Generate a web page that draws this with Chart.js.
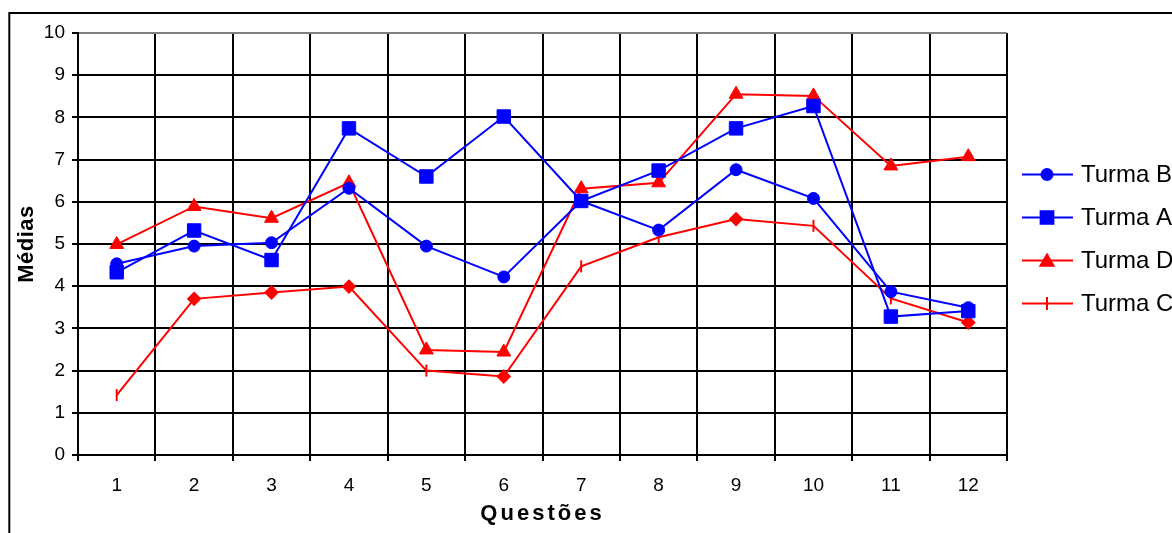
<!DOCTYPE html>
<html>
<head>
<meta charset="utf-8">
<script src="https://cdn.jsdelivr.net/npm/chart.js@4.4.1/dist/chart.umd.min.js"></script>
<style>
  html, body { margin: 0; padding: 0; background: #fff; }
  #c { display: block; }
</style>
</head>
<body>
<canvas id="c" width="1172" height="533"></canvas>
<script>
// ---- data ----
const questoes = ['1','2','3','4','5','6','7','8','9','10','11','12'];
const yTicks = [0,1,2,3,4,5,6,7,8,9,10];
const turmaB = [4.53, 4.95, 5.03, 6.32, 4.95, 4.22, 6.02, 5.33, 6.76, 6.08, 3.87, 3.49];
const turmaA = [4.33, 5.32, 4.62, 7.74, 6.60, 8.02, 6.02, 6.74, 7.74, 8.27, 3.28, 3.41];
const turmaD = [4.99, 5.89, 5.61, 6.45, 2.49, 2.44, 6.31, 6.45, 8.55, 8.51, 6.85, 7.07];
const turmaC = [1.42, 3.70, 3.85, 3.99, 2.00, 1.86, 4.47, 5.16, 5.59, 5.43, 3.71, 3.14];
// marker kind per point of Turma C as seen in the picture
const turmaCMarkers = ['tick','diamond','diamond','diamond','tick','diamond','tick','tick','diamond','tick','tick','diamond'];

const FONT = '"Liberation Sans", Arial, sans-serif';
const BLUE = '#0000FF';
const RED = '#FF0000';

const cStyles = turmaCMarkers.map(m => m === 'tick' ? 'line' : 'rectRot');
const cRot = turmaCMarkers.map(m => m === 'tick' ? 90 : 0);
const cRad = turmaCMarkers.map(m => m === 'tick' ? 6 : 6);

const framePlugin = {
  id: 'frame',
  beforeDraw(chart) {
    const ctx = chart.ctx;
    ctx.save();
    ctx.fillStyle = '#fff';
    ctx.fillRect(0, 0, chart.width, chart.height);
    ctx.strokeStyle = '#000';
    ctx.lineWidth = 2;
    ctx.beginPath();
    ctx.moveTo(9.3, chart.height + 2);
    ctx.lineTo(9.3, 13);
    ctx.lineTo(chart.width + 2, 13);
    ctx.stroke();
    ctx.restore();
    // letter-spaced axis titles
    ['x','y'].forEach(id => {
      const s = chart.scales[id];
      if (s && !s._lsPatched) {
        const orig = s.drawTitle;
        const spacing = id === 'x' ? '3px' : '0.5px';
        s.drawTitle = function () {
          const c = this.ctx;
          c.save();
          c.letterSpacing = spacing;
          orig.call(this);
          c.restore();
        };
        s._lsPatched = true;
      }
    });
  }
};

const legendPlugin = {
  id: 'sideLegend',
  afterDraw(chart) {
    const ctx = chart.ctx;
    const x0 = 1022, x1 = 1073, xm = 1047, xt = 1081;
    const y0 = 174.5, dy = 43;
    const legendStyles = [
      {pointStyle: 'circle', radius: 5.5, rotation: 0},
      {pointStyle: 'rect', radius: 9, rotation: 0},
      {pointStyle: 'triangle', radius: 7.5, rotation: 0},
      {pointStyle: 'line', radius: 6.5, rotation: 90}
    ];
    chart.data.datasets.forEach((ds, i) => {
      const y = y0 + i * dy;
      ctx.save();
      ctx.strokeStyle = ds.borderColor;
      ctx.lineWidth = 2;
      ctx.beginPath();
      ctx.moveTo(x0, y);
      ctx.lineTo(x1, y);
      ctx.stroke();
      ctx.fillStyle = ds.borderColor;
      ctx.strokeStyle = ds.borderColor;
      ctx.lineWidth = 2;
      const st = legendStyles[i];
      Chart.helpers.drawPoint(ctx, {pointStyle: st.pointStyle, rotation: st.rotation, radius: st.radius, borderWidth: 2}, xm, y + (st.pointStyle === 'triangle' ? 1.5 : 0));
      ctx.fillStyle = '#000';
      ctx.font = '24px ' + FONT;
      ctx.textBaseline = 'middle';
      ctx.textAlign = 'left';
      ctx.fillText(ds.label, xt, y + 1);
      ctx.restore();
    });
  }
};

new Chart(document.getElementById('c'), {
  type: 'line',
  data: {
    labels: questoes,
    datasets: [
      { label: 'Turma B', data: turmaB, borderColor: BLUE, backgroundColor: BLUE,
        borderWidth: 2, pointStyle: 'circle', pointRadius: 6, pointBorderWidth: 1,
        pointBackgroundColor: BLUE, pointBorderColor: BLUE, tension: 0 },
      { label: 'Turma A', data: turmaA, borderColor: BLUE, backgroundColor: BLUE,
        borderWidth: 2, pointStyle: 'rect', pointRadius: 9.5, pointBorderWidth: 1,
        pointBackgroundColor: BLUE, pointBorderColor: BLUE, tension: 0 },
      { label: 'Turma D', data: turmaD, borderColor: RED, backgroundColor: RED,
        borderWidth: 2, pointStyle: 'triangle', pointRadius: 8, pointBorderWidth: 1,
        pointBackgroundColor: RED, pointBorderColor: RED, tension: 0 },
      { label: 'Turma C', data: turmaC, borderColor: RED, backgroundColor: RED,
        borderWidth: 2, pointStyle: cStyles, pointRotation: cRot, pointRadius: cRad,
        pointBorderWidth: 2, pointBackgroundColor: RED, pointBorderColor: RED, tension: 0 }
    ]
  },
  options: {
    responsive: false,
    animation: false,
    devicePixelRatio: 1,
    layout: { padding: { left: 0, top: 33, right: 165, bottom: 0 } },
    plugins: {
      legend: { display: false },
      tooltip: { enabled: false },
      title: { display: false }
    },
    scales: {
      x: {
        type: 'category',
        offset: true,
        afterFit(s) { s.height = 78; },
        grid: {
          offset: true,
          drawTicks: true,
          tickLength: 6,
          lineWidth: 2,
          color: ctx => (ctx.index === questoes.length ? '#808080' : '#000'),
          tickColor: '#000'
        },
        border: { display: true, color: '#000', width: 2 },
        ticks: {
          color: '#000',
          font: { family: FONT, size: 19 },
          padding: 13,
          maxRotation: 0,
          autoSkip: false
        },
        title: {
          display: true,
          text: 'Questões',
          color: '#000',
          font: { family: FONT, size: 22, weight: 'bold' },
          padding: { top: 0, bottom: 6 }
        }
      },
      y: {
        min: 0,
        max: 10,
        afterFit(s) { s.width = 78; },
        afterBuildTicks(s) { s.ticks = yTicks.map(v => ({ value: v })); },
        grid: {
          drawTicks: true,
          tickLength: 6,
          lineWidth: 2,
          color: ctx => (ctx.tick && ctx.tick.value === 10 ? '#808080' : '#000'),
          tickColor: '#000'
        },
        border: { display: true, color: '#000', width: 2 },
        ticks: {
          color: '#000',
          font: { family: FONT, size: 19 },
          padding: 7
        },
        title: {
          display: true,
          text: 'Médias',
          color: '#000',
          font: { family: FONT, size: 22, weight: 'bold' },
          padding: { top: 14, bottom: 0 }
        }
      }
    }
  },
  plugins: [framePlugin, legendPlugin]
});
</script>
</body>
</html>
